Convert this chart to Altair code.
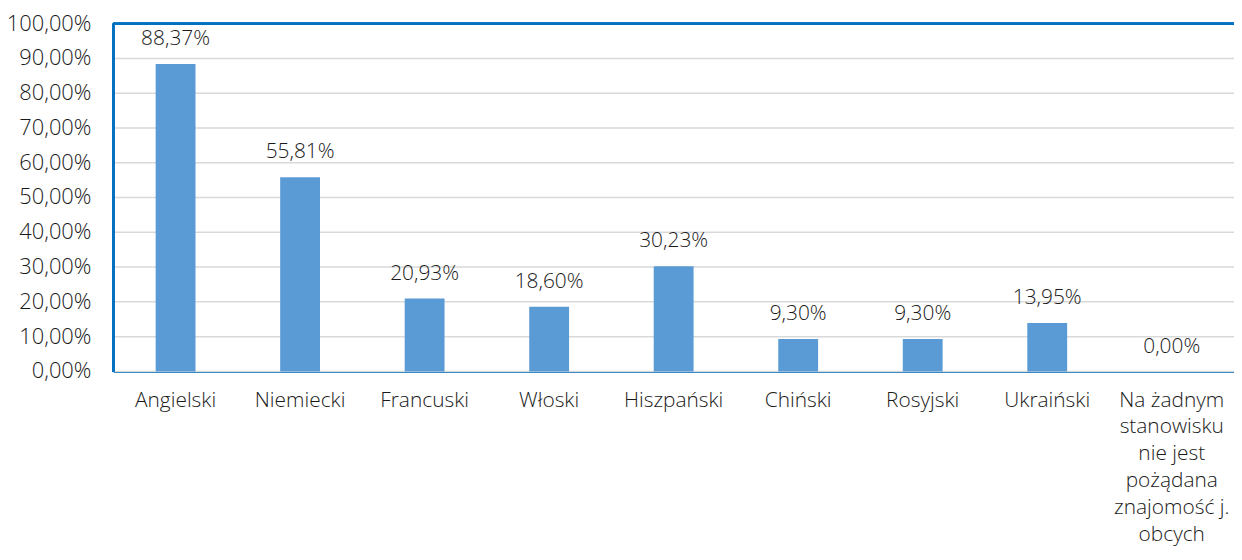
import altair as alt
import pandas as pd

categories = ["Angielski", "Niemiecki", "Francuski", "Włoski", "Hiszpański",
              "Chiński", "Rosyjski", "Ukraiński",
              "Na żadnym\nstanowisku\nnie jest\npożądana\nznajomość j.\nobcych"]
values = [0.8837, 0.5581, 0.2093, 0.1860, 0.3023, 0.0930, 0.0930, 0.1395, 0.0]
y_ticks = [0.0, 0.1, 0.2, 0.3, 0.4, 0.5, 0.6, 0.7, 0.8, 0.9, 1.0]

df = pd.DataFrame({"cat": categories, "val": values})
df_t = pd.DataFrame({"t": y_ticks})

FONT = "Open Sans"
FS = 21
BLUE_LINE = "#0070C0"
BAR = "#5B9BD5"
TXT = "#1a1a1a"
W, H = 1128, 350

yscale = alt.Scale(domain=[0, 1], nice=False)

xenc = alt.X("cat:N", sort=categories, title=None,
             scale=alt.Scale(paddingInner=0.68, paddingOuter=0.34),
             axis=alt.Axis(labelAngle=0, labelExpr="split(datum.label, '\\n')",
                           labelFontSize=FS, labelFont=FONT, labelColor=TXT,
                           labelLineHeight=27, labelPadding=18, ticks=False,
                           domainColor=BLUE_LINE, domainWidth=2, labelLimit=300,
                           labelFontWeight=300, labelOverlap=False, grid=False))
yenc = alt.Y("val:Q", title=None, scale=yscale, axis=None)

# gridlines
grid = alt.Chart(df_t).mark_rule(color="#d9d9d9", strokeWidth=1.5).encode(
    y=alt.Y("t:Q", scale=yscale, axis=None),
    x=alt.value(0), x2=alt.value(W))

# y tick labels
ylabels = alt.Chart(df_t).transform_calculate(
    lab="replace(format(datum.t, '.2%'), '.', ',')"
).mark_text(font=FONT, fontSize=FS + 1, fontWeight=300, color=TXT,
            align="right", baseline="middle").encode(
    y=alt.Y("t:Q", scale=yscale, axis=None),
    x=alt.value(-22), text="lab:N")

base = alt.Chart(df).transform_calculate(
    lab="replace(format(datum.val, '.2%'), '.', ',')"
).encode(x=xenc, y=yenc)

bars = base.mark_bar(color=BAR)

labels = base.mark_text(font=FONT, fontSize=FS, fontWeight=300, color=TXT,
                        baseline="bottom", dy=-15).encode(text="lab:N")

top = alt.Chart(df).mark_rule(color=BLUE_LINE, strokeWidth=2).encode(
    y=alt.value(0), x=alt.value(0), x2=alt.value(W))
left = alt.Chart(df).mark_rule(color=BLUE_LINE, strokeWidth=2).encode(
    x=alt.value(0), y=alt.value(0), y2=alt.value(H))

chart = (grid + bars + labels + ylabels + top + left).properties(
    width=W, height=H,
    autosize=alt.AutoSizeParams(type="none"),
    padding={"left": 106, "top": 14, "right": 0, "bottom": 180},
).configure_view(stroke=None)

chart.save("out.html", embed_options={"renderer": "svg", "actions": False})
